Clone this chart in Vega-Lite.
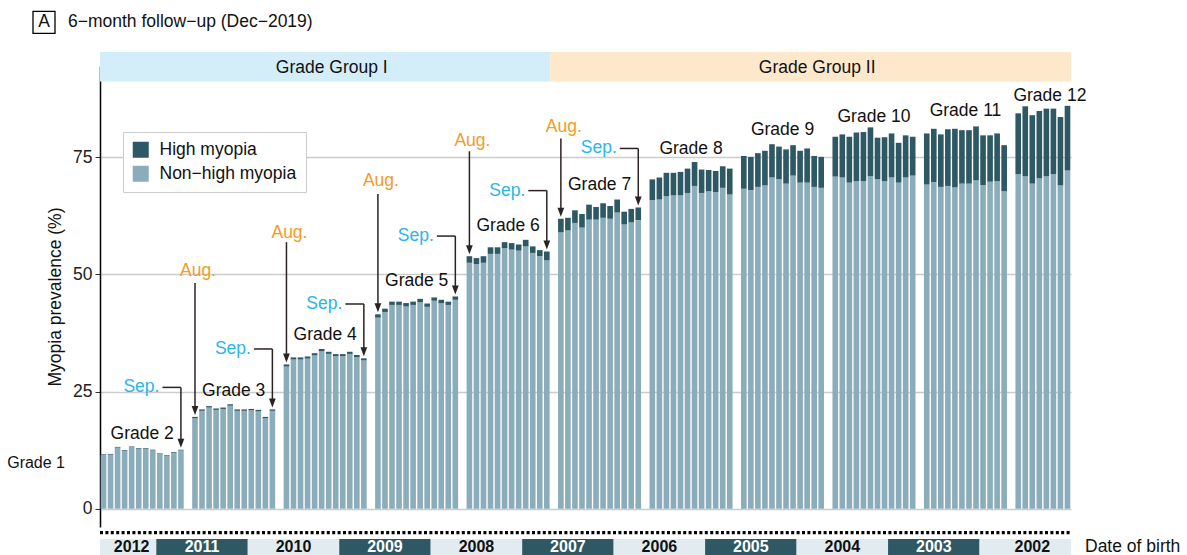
{
  "$schema": "https://vega.github.io/schema/vega-lite/v6.json",
  "width": 971,
  "height": 461,
  "autosize": {"type": "none"},
  "padding": {"left": 100, "top": 66, "right": 116, "bottom": 28},
  "config": {"view": {"stroke": null}, "font": "Liberation Sans"},
  "datasets": {
    "bars": [
      {"id":"2012-08","nh":11.45,"hi":0.15},{"id":"2012-07","nh":11.55,"hi":0.15},{"id":"2012-06","nh":13.05,"hi":0.15},{"id":"2012-05","nh":12.35,"hi":0.15},{"id":"2012-04","nh":13.15,"hi":0.15},{"id":"2012-03","nh":12.75,"hi":0.15},{"id":"2012-02","nh":12.75,"hi":0.15},{"id":"2012-01","nh":12.45,"hi":0.15},{"id":"2011-12","nh":11.65,"hi":0.15},{"id":"2011-11","nh":11.25,"hi":0.15},{"id":"2011-10","nh":11.95,"hi":0.15},{"id":"2011-09","nh":12.45,"hi":0.15},
      {"id":"2011-08","nh":19.3,"hi":0.3},{"id":"2011-07","nh":20.9,"hi":0.3},{"id":"2011-06","nh":21.6,"hi":0.3},{"id":"2011-05","nh":21.1,"hi":0.3},{"id":"2011-04","nh":21.3,"hi":0.3},{"id":"2011-03","nh":22.0,"hi":0.3},{"id":"2011-02","nh":20.9,"hi":0.3},{"id":"2011-01","nh":20.9,"hi":0.3},{"id":"2010-12","nh":21.0,"hi":0.3},{"id":"2010-11","nh":20.8,"hi":0.3},{"id":"2010-10","nh":19.3,"hi":0.3},{"id":"2010-09","nh":20.9,"hi":0.3},
      {"id":"2010-08","nh":30.35,"hi":0.45},{"id":"2010-07","nh":31.85,"hi":0.45},{"id":"2010-06","nh":31.85,"hi":0.45},{"id":"2010-05","nh":32.05,"hi":0.45},{"id":"2010-04","nh":32.75,"hi":0.45},{"id":"2010-03","nh":33.65,"hi":0.45},{"id":"2010-02","nh":33.05,"hi":0.45},{"id":"2010-01","nh":32.55,"hi":0.45},{"id":"2009-12","nh":32.55,"hi":0.45},{"id":"2009-11","nh":33.05,"hi":0.45},{"id":"2009-10","nh":32.35,"hi":0.45},{"id":"2009-09","nh":31.65,"hi":0.45},
      {"id":"2009-08","nh":40.8,"hi":0.7},{"id":"2009-07","nh":42.0,"hi":0.7},{"id":"2009-06","nh":43.5,"hi":0.7},{"id":"2009-05","nh":43.5,"hi":0.7},{"id":"2009-04","nh":43.2,"hi":0.7},{"id":"2009-03","nh":43.5,"hi":0.7},{"id":"2009-02","nh":44.1,"hi":0.7},{"id":"2009-01","nh":43.1,"hi":0.7},{"id":"2008-12","nh":44.4,"hi":0.7},{"id":"2008-11","nh":43.9,"hi":0.7},{"id":"2008-10","nh":43.5,"hi":0.7},{"id":"2008-09","nh":44.6,"hi":0.7},
      {"id":"2008-08","nh":52.5,"hi":1.4},{"id":"2008-07","nh":52.2,"hi":1.3},{"id":"2008-06","nh":52.5,"hi":1.4},{"id":"2008-05","nh":54.4,"hi":1.4},{"id":"2008-04","nh":54.4,"hi":1.4},{"id":"2008-03","nh":55.6,"hi":1.3},{"id":"2008-02","nh":55.3,"hi":1.4},{"id":"2008-01","nh":55.1,"hi":1.3},{"id":"2007-12","nh":56.0,"hi":1.4},{"id":"2007-11","nh":54.6,"hi":1.4},{"id":"2007-10","nh":53.9,"hi":1.3},{"id":"2007-09","nh":53.0,"hi":1.9},
      {"id":"2007-08","nh":59.0,"hi":2.9},{"id":"2007-07","nh":59.4,"hi":2.7},{"id":"2007-06","nh":61.0,"hi":2.7},{"id":"2007-05","nh":60.0,"hi":2.9},{"id":"2007-04","nh":61.7,"hi":3.2},{"id":"2007-03","nh":61.7,"hi":2.7},{"id":"2007-02","nh":62.1,"hi":3.1},{"id":"2007-01","nh":61.9,"hi":2.7},{"id":"2006-12","nh":63.2,"hi":2.8},{"id":"2006-11","nh":60.7,"hi":2.7},{"id":"2006-10","nh":61.1,"hi":2.9},{"id":"2006-09","nh":61.6,"hi":2.7},
      {"id":"2006-08","nh":65.9,"hi":4.4},{"id":"2006-07","nh":66.0,"hi":4.7},{"id":"2006-06","nh":66.7,"hi":5.0},{"id":"2006-05","nh":66.9,"hi":4.8},{"id":"2006-04","nh":66.9,"hi":5.0},{"id":"2006-03","nh":67.4,"hi":5.2},{"id":"2006-02","nh":68.9,"hi":5.1},{"id":"2006-01","nh":67.4,"hi":5.0},{"id":"2005-12","nh":67.8,"hi":4.5},{"id":"2005-11","nh":67.6,"hi":4.5},{"id":"2005-10","nh":68.5,"hi":4.6},{"id":"2005-09","nh":67.1,"hi":5.5},
      {"id":"2005-08","nh":68.3,"hi":7.0},{"id":"2005-07","nh":68.0,"hi":7.1},{"id":"2005-06","nh":68.7,"hi":7.2},{"id":"2005-05","nh":69.0,"hi":7.4},{"id":"2005-04","nh":70.7,"hi":7.1},{"id":"2005-03","nh":70.3,"hi":7.0},{"id":"2005-02","nh":69.4,"hi":7.3},{"id":"2005-01","nh":71.1,"hi":6.5},{"id":"2004-12","nh":69.6,"hi":6.8},{"id":"2004-11","nh":69.6,"hi":7.3},{"id":"2004-10","nh":68.7,"hi":6.6},{"id":"2004-09","nh":68.5,"hi":6.6},
      {"id":"2004-08","nh":70.9,"hi":8.5},{"id":"2004-07","nh":70.7,"hi":9.2},{"id":"2004-06","nh":69.6,"hi":9.8},{"id":"2004-05","nh":69.9,"hi":10.4},{"id":"2004-04","nh":69.9,"hi":10.5},{"id":"2004-03","nh":71.0,"hi":10.4},{"id":"2004-02","nh":70.3,"hi":8.9},{"id":"2004-01","nh":69.9,"hi":9.4},{"id":"2003-12","nh":70.7,"hi":9.4},{"id":"2003-11","nh":69.6,"hi":8.5},{"id":"2003-10","nh":70.7,"hi":9.0},{"id":"2003-09","nh":71.1,"hi":8.3},
      {"id":"2003-08","nh":69.2,"hi":10.9},{"id":"2003-07","nh":69.7,"hi":11.4},{"id":"2003-06","nh":68.7,"hi":11.2},{"id":"2003-05","nh":68.9,"hi":12.1},{"id":"2003-04","nh":68.6,"hi":12.5},{"id":"2003-03","nh":69.4,"hi":11.4},{"id":"2003-02","nh":69.4,"hi":11.4},{"id":"2003-01","nh":70.1,"hi":11.5},{"id":"2002-12","nh":69.1,"hi":10.6},{"id":"2002-11","nh":69.8,"hi":9.9},{"id":"2002-10","nh":69.9,"hi":10.2},{"id":"2002-09","nh":67.8,"hi":9.8},
      {"id":"2002-08","nh":71.4,"hi":13.0},{"id":"2002-07","nh":71.0,"hi":14.9},{"id":"2002-06","nh":69.4,"hi":14.6},{"id":"2002-05","nh":70.5,"hi":14.4},{"id":"2002-04","nh":71.0,"hi":14.4},{"id":"2002-03","nh":71.4,"hi":14.0},{"id":"2002-02","nh":69.0,"hi":14.6},{"id":"2002-01","nh":72.2,"hi":13.8}
    ],
    "aug": [
      {"id":"2011-08","lab":50.7,"top":48.2,"tip":19.6},
      {"id":"2010-08","lab":58.9,"top":56.9,"tip":30.8},
      {"id":"2009-08","lab":69.9,"top":67.2,"tip":41.5},
      {"id":"2008-08","lab":78.5,"top":76.3,"tip":53.9},
      {"id":"2007-08","lab":81.4,"top":79.0,"tip":61.9}
    ],
    "sep": [
      {"id":"2011-09","lv":25.9,"tip":12.6},
      {"id":"2010-09","lv":34.1,"tip":21.2},
      {"id":"2009-09","lv":43.7,"tip":32.1},
      {"id":"2008-09","lv":58.2,"tip":45.3},
      {"id":"2007-09","lv":67.9,"tip":54.9},
      {"id":"2006-09","lv":76.9,"tip":64.3}
    ],
    "grades": [
      {"label":"Grade 2","anchor":"2012-03","v":15.9},
      {"label":"Grade 3","anchor":"2011-03","v":25.2},
      {"label":"Grade 4","anchor":"2010-03","v":37.1},
      {"label":"Grade 5","anchor":"2009-03","v":48.7},
      {"label":"Grade 6","anchor":"2008-03","v":60.4},
      {"label":"Grade 7","anchor":"2007-03","v":69.0},
      {"label":"Grade 8","anchor":"2006-03","v":76.7},
      {"label":"Grade 9","anchor":"2005-03","v":80.8},
      {"label":"Grade 10","anchor":"2004-03","v":83.6},
      {"label":"Grade 11","anchor":"2003-03","v":84.9},
      {"label":"Grade 12","anchor":"2002-04","v":88.0}
    ],
    "headers": [
      {"label":"Grade Group I","start":"2012-08","end":"2007-09","anchor":"2010-01"},
      {"label":"Grade Group II","start":"g7","end":"2002-01","anchor":"2004-09"}
    ],
    "years": [
      {"year":2012,"start":"2012-08","end":"2012-01","anchor":"2012-04"},
      {"year":2011,"start":"2011-12","end":"2011-01","anchor":"2011-07"},
      {"year":2010,"start":"2010-12","end":"2010-01","anchor":"2010-07"},
      {"year":2009,"start":"2009-12","end":"2009-01","anchor":"2009-07"},
      {"year":2008,"start":"2008-12","end":"2008-01","anchor":"2008-07"},
      {"year":2007,"start":"2007-12","end":"2007-01","anchor":"2007-07"},
      {"year":2006,"start":"2006-12","end":"2006-01","anchor":"2006-07"},
      {"year":2005,"start":"2005-12","end":"2005-01","anchor":"2005-07"},
      {"year":2004,"start":"2004-12","end":"2004-01","anchor":"2004-07"},
      {"year":2003,"start":"2003-12","end":"2003-01","anchor":"2003-07"},
      {"year":2002,"start":"2002-12","end":"2002-01","anchor":"2002-06"}
    ],
    "one": [{"k": 1}]
  },
  "layer": [
    {
      "data": {"name": "bars"},
      "transform": [{"fold": ["nh", "hi"], "as": ["key", "value"]}],
      "mark": {"type": "bar", "width": {"band": 0.8}},
      "encoding": {
        "x": {
          "field": "id", "type": "nominal", "axis": null,
          "scale": {
            "type": "band", "paddingInner": 0, "paddingOuter": 0,
            "domain": [
              "2012-08","2012-07","2012-06","2012-05","2012-04","2012-03","2012-02","2012-01","2011-12","2011-11","2011-10","2011-09","g3",
              "2011-08","2011-07","2011-06","2011-05","2011-04","2011-03","2011-02","2011-01","2010-12","2010-11","2010-10","2010-09","g4",
              "2010-08","2010-07","2010-06","2010-05","2010-04","2010-03","2010-02","2010-01","2009-12","2009-11","2009-10","2009-09","g5",
              "2009-08","2009-07","2009-06","2009-05","2009-04","2009-03","2009-02","2009-01","2008-12","2008-11","2008-10","2008-09","g6",
              "2008-08","2008-07","2008-06","2008-05","2008-04","2008-03","2008-02","2008-01","2007-12","2007-11","2007-10","2007-09","g7",
              "2007-08","2007-07","2007-06","2007-05","2007-04","2007-03","2007-02","2007-01","2006-12","2006-11","2006-10","2006-09","g8",
              "2006-08","2006-07","2006-06","2006-05","2006-04","2006-03","2006-02","2006-01","2005-12","2005-11","2005-10","2005-09","g9",
              "2005-08","2005-07","2005-06","2005-05","2005-04","2005-03","2005-02","2005-01","2004-12","2004-11","2004-10","2004-09","g10",
              "2004-08","2004-07","2004-06","2004-05","2004-04","2004-03","2004-02","2004-01","2003-12","2003-11","2003-10","2003-09","g11",
              "2003-08","2003-07","2003-06","2003-05","2003-04","2003-03","2003-02","2003-01","2002-12","2002-11","2002-10","2002-09","g12",
              "2002-08","2002-07","2002-06","2002-05","2002-04","2002-03","2002-02","2002-01"
            ]
          }
        },
        "y": {
          "field": "value", "type": "quantitative", "stack": "zero",
          "scale": {"domain": [-3.9, 94.5], "nice": false, "zero": false},
          "axis": {
            "title": "Myopia prevalence (%)", "values": [0, 25, 50, 75],
            "grid": true, "gridColor": "#cccccc", "gridWidth": 1.5,
            "domainColor": "#000000", "domainWidth": 1.5,
            "tickColor": "#333333", "tickSize": 5, "tickWidth": 1,
            "labelFontSize": 17.5, "labelColor": "#222222", "labelPadding": 3, "labelFont": "Liberation Sans",
            "titleFontSize": 17.5, "titleFontWeight": "normal", "titleColor": "#111111", "titlePadding": 8, "titleFont": "Liberation Sans"
          }
        },
        "color": {
          "field": "key", "type": "nominal",
          "scale": {"domain": ["hi", "nh"], "range": ["#2e5864", "#8badbb"]},
          "legend": {
            "title": null, "orient": "none", "legendX": 23, "legendY": 66,
            "symbolType": "square", "symbolSize": 256, "symbolStrokeWidth": 0, "symbolOpacity": 1,
            "labelFontSize": 17.5, "labelColor": "#111111", "labelFont": "Liberation Sans", "labelOffset": 10,
            "padding": 9, "rowPadding": 5, "fillColor": "#ffffff", "strokeColor": "#cccccc",
            "labelExpr": "datum.value === 'hi' ? 'High myopia' : 'Non−high myopia'"
          }
        },
        "order": {"field": "key", "sort": "descending"}
      }
    },
    {
      "data": {"name": "headers"},
      "mark": {"type": "rect"},
      "encoding": {
        "x": {"field": "start", "type": "nominal", "bandPosition": 0},
        "x2": {"field": "end", "bandPosition": 1},
        "y": {"datum": 91.2, "type": "quantitative"},
        "y2": {"datum": 97.5},
        "color": {"condition": {"test": "datum.label === 'Grade Group I'", "value": "#d3eef9"}, "value": "#fde8cb"}
      }
    },
    {
      "data": {"name": "headers"},
      "mark": {"type": "text", "fontSize": 17.5, "color": "#111111", "baseline": "middle", "dx": -4},
      "encoding": {
        "x": {"field": "anchor", "type": "nominal"},
        "y": {"datum": 94.0, "type": "quantitative"},
        "text": {"field": "label"}
      }
    },
    {
      "data": {"name": "years"},
      "mark": {"type": "rect"},
      "encoding": {
        "x": {"field": "start", "type": "nominal", "bandPosition": 0},
        "x2": {"field": "end", "bandPosition": 1},
        "y": {"datum": -6.45, "type": "quantitative"},
        "y2": {"datum": -11.5},
        "color": {"condition": {"test": "datum.year % 2 === 1", "value": "#2e5864"}, "value": "#e2ecf0"}
      }
    },
    {
      "data": {"name": "years"},
      "mark": {"type": "text", "fontSize": 16, "fontWeight": "bold", "baseline": "middle"},
      "encoding": {
        "x": {"field": "anchor", "type": "nominal"},
        "y": {"datum": -8.1, "type": "quantitative"},
        "text": {"field": "year"},
        "color": {"condition": {"test": "datum.year % 2 === 1", "value": "#ffffff"}, "value": "#111111"}
      }
    },
    {
      "data": {"name": "one"},
      "mark": {"type": "rule", "color": "#000000", "strokeWidth": 3.3, "strokeDash": [3, 2.4]},
      "encoding": {
        "x": {"datum": "2012-08", "type": "nominal", "bandPosition": 0},
        "x2": {"datum": "2002-01", "bandPosition": 1},
        "y": {"datum": -5.1, "type": "quantitative"}
      }
    },
    {
      "data": {"name": "aug"},
      "mark": {"type": "rule", "color": "#2b2321", "strokeWidth": 1.5, "y2Offset": -5},
      "encoding": {
        "x": {"field": "id", "type": "nominal"},
        "y": {"field": "top", "type": "quantitative"},
        "y2": {"field": "tip"}
      }
    },
    {
      "data": {"name": "aug"},
      "mark": {"type": "point", "shape": "M-0.75,-2L0.75,-2L0,0Z", "filled": true, "size": 81, "color": "#2b2321", "opacity": 1, "strokeWidth": 0, "yOffset": -2},
      "encoding": {
        "x": {"field": "id", "type": "nominal"},
        "y": {"field": "tip", "type": "quantitative"}
      }
    },
    {
      "data": {"name": "aug"},
      "mark": {"type": "text", "fontSize": 17.5, "color": "#f39c1e", "baseline": "middle", "dx": 3},
      "encoding": {
        "x": {"field": "id", "type": "nominal"},
        "y": {"field": "lab", "type": "quantitative"},
        "text": {"value": "Aug."}
      }
    },
    {
      "data": {"name": "sep"},
      "mark": {"type": "rule", "color": "#2b2321", "strokeWidth": 1.5, "y2Offset": -5},
      "encoding": {
        "x": {"field": "id", "type": "nominal"},
        "y": {"field": "lv", "type": "quantitative"},
        "y2": {"field": "tip"}
      }
    },
    {
      "data": {"name": "sep"},
      "mark": {"type": "rule", "color": "#2b2321", "strokeWidth": 1.5, "xOffset": -18.5},
      "encoding": {
        "x": {"field": "id", "type": "nominal"},
        "x2": {"field": "id"},
        "y": {"field": "lv", "type": "quantitative"}
      }
    },
    {
      "data": {"name": "sep"},
      "mark": {"type": "point", "shape": "M-0.75,-2L0.75,-2L0,0Z", "filled": true, "size": 81, "color": "#2b2321", "opacity": 1, "strokeWidth": 0, "yOffset": -2},
      "encoding": {
        "x": {"field": "id", "type": "nominal"},
        "y": {"field": "tip", "type": "quantitative"}
      }
    },
    {
      "data": {"name": "sep"},
      "mark": {"type": "text", "fontSize": 17.5, "color": "#2bb5ea", "baseline": "middle", "align": "right", "dx": -21.5},
      "encoding": {
        "x": {"field": "id", "type": "nominal"},
        "y": {"field": "lv", "type": "quantitative"},
        "text": {"value": "Sep."}
      }
    },
    {
      "data": {"name": "grades"},
      "mark": {"type": "text", "fontSize": 17.5, "color": "#111111", "baseline": "middle"},
      "encoding": {
        "x": {"field": "anchor", "type": "nominal", "bandPosition": 1},
        "y": {"field": "v", "type": "quantitative"},
        "text": {"field": "label"}
      }
    },
    {
      "data": {"name": "one"},
      "mark": {"type": "text", "fontSize": 16, "color": "#111111", "baseline": "middle", "align": "right", "dx": -35},
      "encoding": {
        "x": {"datum": "2012-08", "type": "nominal", "bandPosition": 0},
        "y": {"datum": 9.7, "type": "quantitative"},
        "text": {"value": "Grade 1"}
      }
    },
    {
      "data": {"name": "one"},
      "mark": {"type": "point", "shape": "square", "filled": false, "size": 484, "color": "#000000", "strokeWidth": 1.3, "opacity": 1, "xOffset": -56},
      "encoding": {
        "x": {"datum": "2012-08", "type": "nominal", "bandPosition": 0},
        "y": {"datum": 103.8, "type": "quantitative"}
      }
    },
    {
      "data": {"name": "one"},
      "mark": {"type": "text", "fontSize": 17.5, "color": "#111111", "baseline": "middle", "align": "center", "dx": -56},
      "encoding": {
        "x": {"datum": "2012-08", "type": "nominal", "bandPosition": 0},
        "y": {"datum": 103.8, "type": "quantitative"},
        "text": {"value": "A"}
      }
    },
    {
      "data": {"name": "one"},
      "mark": {"type": "text", "fontSize": 17.5, "color": "#111111", "baseline": "middle", "align": "left", "dx": -32},
      "encoding": {
        "x": {"datum": "2012-08", "type": "nominal", "bandPosition": 0},
        "y": {"datum": 103.8, "type": "quantitative"},
        "text": {"value": "6−month follow−up (Dec−2019)"}
      }
    },
    {
      "data": {"name": "one"},
      "mark": {"type": "text", "fontSize": 17.5, "color": "#111111", "baseline": "middle", "align": "left", "dx": 14},
      "encoding": {
        "x": {"datum": "2002-01", "type": "nominal", "bandPosition": 1},
        "y": {"datum": -8.1, "type": "quantitative"},
        "text": {"value": "Date of birth"}
      }
    }
  ]
}
